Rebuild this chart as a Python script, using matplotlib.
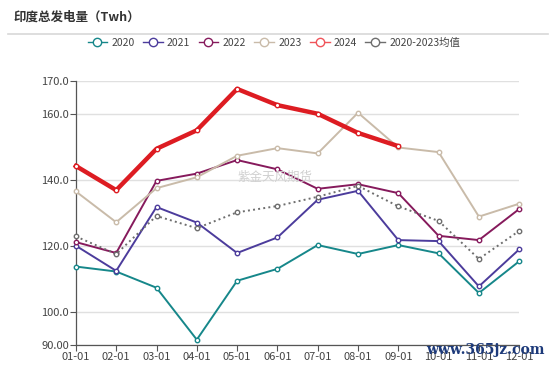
import matplotlib
matplotlib.use("Agg")
import matplotlib.pyplot as plt
from matplotlib.lines import Line2D

plt.rcParams['font.family'] = ['Noto Sans CJK SC', 'DejaVu Sans']

months = ["01-01", "02-01", "03-01", "04-01", "05-01", "06-01",
          "07-01", "08-01", "09-01", "10-01", "11-01", "12-01"]

y2020 = [113.8, 112.3, 107.4, 91.7, 109.5, 113.1, 120.3, 117.6, 120.3, 117.8, 105.8, 115.4]
y2021 = [120.1, 112.5, 131.8, 127.1, 117.9, 122.6, 134.0, 136.7, 121.8, 121.5, 107.8, 119.0]
y2022 = [121.2, 117.9, 139.7, 141.9, 146.0, 143.2, 137.3, 138.7, 136.0, 123.1, 121.8, 131.2]
y2023 = [136.5, 127.2, 137.5, 140.8, 147.3, 149.6, 148.0, 160.3, 149.8, 148.4, 128.9, 132.8]
y2024 = [144.2, 136.9, 149.4, 155.0, 167.5, 162.6, 160.0, 154.2, 150.2]
avg = [122.9, 117.6, 129.1, 125.4, 130.2, 132.1, 134.9, 138.2, 132.0, 127.6, 116.1, 124.6]

yticks = [90, 100, 120, 140, 160, 170]
ytick_labels = ["90.00", "100.0", "120.0", "140.0", "160.0", "170.0"]

series = [
    ("2020", y2020, "#16878a", 1.4, "-"),
    ("2021", y2021, "#4c3c9c", 1.4, "-"),
    ("2022", y2022, "#861a5c", 1.4, "-"),
    ("2023", y2023, "#c9bba9", 1.4, "-"),
    ("2024", y2024, "#dd1c22", 3.2, "-"),
    ("2020-2023均值", avg, "#6e6e6e", 1.4, ":"),
]

fig = plt.figure(figsize=(5.5, 3.65), dpi=100)
ax = fig.add_axes([0.138, 0.054, 0.806, 0.725])

for name, vals, color, lw, ls in series:
    x = list(range(len(vals)))
    ax.plot(x, vals, color=color, lw=lw, ls=ls, marker="o", markersize=3.2,
            markerfacecolor="white", markeredgecolor=color, markeredgewidth=1,
            zorder=3, clip_on=False)

ax.set_xlim(0, 11)
ax.set_ylim(90, 170)
ax.set_xticks(range(12))
ax.set_xticklabels(months, fontsize=8, color="#444444")
ax.set_yticks(yticks)
ax.set_yticklabels(ytick_labels, fontsize=8, color="#444444")
ax.tick_params(axis="x", length=4, width=0.8, color="#555555", pad=1)
ax.tick_params(axis="y", length=4, width=0.8, color="#555555", pad=1)
ax.grid(axis="y", color="#e0e0e0", lw=1)
ax.set_axisbelow(True)
for s in ["top", "right"]:
    ax.spines[s].set_visible(False)
for s in ["left", "bottom"]:
    ax.spines[s].set_color("#555555")
    ax.spines[s].set_linewidth(0.9)

# title and separator
fig.text(0.024, 0.953, "印度总发电量（Twh）", fontsize=9, fontweight="bold",
         color="#333333", va="center")
fig.add_artist(Line2D([0.015, 0.996], [0.907, 0.907], color="#d8d8d8", lw=1.2))

handles = []
for name, vals, color, lw, ls in series:
    lc = "#f0545a" if name == "2024" else color
    handles.append(Line2D([], [], color=lc, lw=1, marker="o", markersize=6,
                          markerfacecolor="white", markeredgecolor=lc, label=name))
fig.legend(handles=handles, loc="center", bbox_to_anchor=(0.498, 0.882), ncol=6,
           frameon=False, fontsize=7.5, handlelength=1.9, handletextpad=0.4,
           columnspacing=0.8, labelcolor="#444444")

# watermarks
fig.text(0.5, 0.515, "紫金天风期货", fontsize=9, color="#d0d0d0", ha="center", va="center")
fig.text(0.882, 0.041, "www.365jz.com", fontsize=10, color="#1d3a7a",
         fontweight="bold", family="DejaVu Serif", ha="center", va="center")

fig.savefig("out.png", dpi=100)
